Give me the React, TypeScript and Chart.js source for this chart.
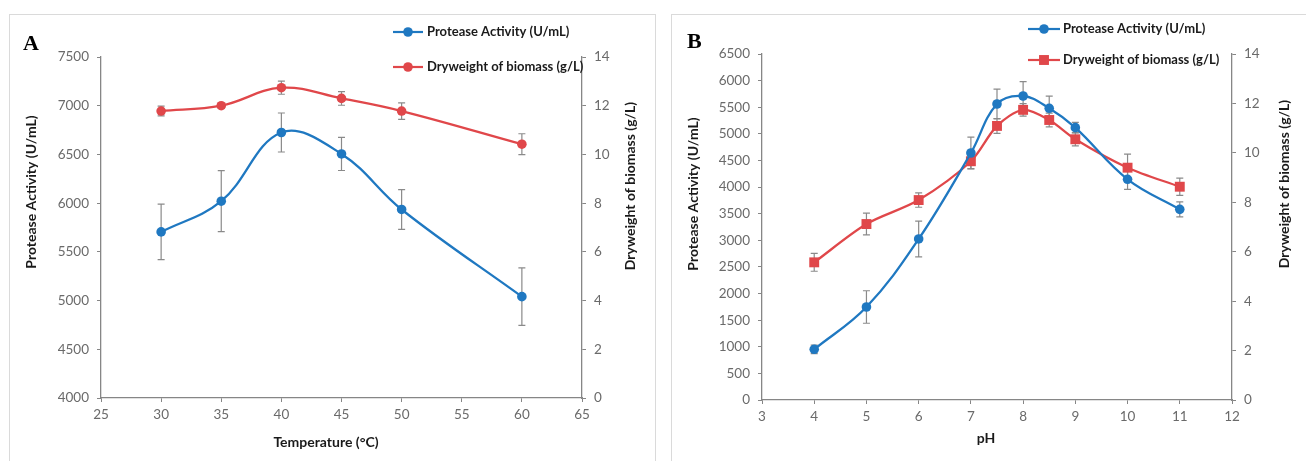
import React, { useEffect, useRef } from 'react';
import { Chart, registerables } from 'chart.js';

Chart.register(...registerables);

// ---------- Data ----------
const tempC = [30, 35, 40, 45, 50, 60];
const tempProtease = [5705, 6020, 6725, 6505, 5935, 5040];
const tempProteaseErr = [285, 313, 200, 170, 204, 295];
const tempBiomass = [11.78, 12.0, 12.74, 12.3, 11.78, 10.42];
const tempBiomassErr = [0.2, 0.1, 0.27, 0.28, 0.34, 0.43];

const phValues = [4, 5, 6, 7, 7.5, 8, 8.5, 9, 10, 11];
const phProtease = [952, 1747, 3025, 4640, 5561, 5711, 5480, 5116, 4146, 3582];
const phProteaseErr = [80, 305, 335, 300, 280, 270, 230, 100, 190, 140];
const phBiomass = [5.57, 7.12, 8.09, 9.66, 11.09, 11.74, 11.33, 10.55, 9.4, 8.63];
const phBiomassErr = [0.36, 0.44, 0.29, 0.3, 0.3, 0.25, 0.28, 0.27, 0.55, 0.35];

const seriesLabels = ['Protease Activity (U/mL)', 'Dryweight of biomass (g/L)'];
const leftTitle = 'Protease Activity (U/mL)';
const rightTitle = 'Dryweight of biomass (g/L)';

// ---------- Styles ----------
const FONT = 'Lato, "Open Sans", sans-serif';
const BLUE = '#1f78c1';
const RED = '#e0474a';
const AXIS = '#868686';
const TICK = '#6a6a6a';
const TITLE = '#1a1a1a';
const ERR = '#8a8a8a';

const errorBarPlugin = {
  id: 'errorBars',
  beforeDatasetsDraw(chart: any) {
    const ctx = chart.ctx;
    ctx.save();
    ctx.strokeStyle = ERR;
    ctx.lineWidth = 1.2;
    chart.data.datasets.forEach((ds: any) => {
      const xs = chart.scales.x;
      const ys = chart.scales[ds.yAxisID];
      ds.data.forEach((p: any, i: number) => {
        const e = ds.errors[i];
        const px = xs.getPixelForValue(p.x);
        const top = ys.getPixelForValue(p.y + e);
        const bot = ys.getPixelForValue(p.y - e);
        ctx.beginPath();
        ctx.moveTo(px, top);
        ctx.lineTo(px, bot);
        ctx.moveTo(px - 3.5, top);
        ctx.lineTo(px + 3.5, top);
        ctx.moveTo(px - 3.5, bot);
        ctx.lineTo(px + 3.5, bot);
        ctx.stroke();
      });
    });
    ctx.restore();
  },
};

function decorPlugin(spec: any) {
  return {
    id: 'decor',
    afterDraw(chart: any) {
      const ctx = chart.ctx;
      ctx.save();
      // panel letter
      ctx.fillStyle = '#000';
      ctx.font = 'bold 22px "Liberation Serif", "DejaVu Serif", serif';
      ctx.textAlign = 'left';
      ctx.textBaseline = 'alphabetic';
      ctx.fillText(spec.letter, spec.letterPos[0], spec.letterPos[1]);

      // axis titles
      ctx.fillStyle = TITLE;
      ctx.font = `bold 14px ${FONT}`;
      ctx.textAlign = 'center';
      ctx.textBaseline = 'middle';
      ctx.fillText(spec.xTitle, spec.xTitlePos[0], spec.xTitlePos[1]);
      const rot = (text: string, x: number, y: number) => {
        ctx.save();
        ctx.translate(x, y);
        ctx.rotate(-Math.PI / 2);
        ctx.fillText(text, 0, 0);
        ctx.restore();
      };
      rot(leftTitle, spec.leftTitlePos[0], spec.leftTitlePos[1]);
      rot(rightTitle, spec.rightTitlePos[0], spec.rightTitlePos[1]);

      // legend
      const lg = spec.legend;
      chart.data.datasets.forEach((ds: any, i: number) => {
        const y = lg.rows[i];
        ctx.strokeStyle = ds.borderColor;
        ctx.lineWidth = 2.2;
        ctx.beginPath();
        ctx.moveTo(lg.x0, y);
        ctx.lineTo(lg.x1, y);
        ctx.stroke();
        ctx.fillStyle = ds.borderColor;
        if (ds.pointStyle === 'rect') {
          const s = ds.pointRadius * Math.SQRT1_2;
          ctx.fillRect(lg.mx - s, y - s, 2 * s, 2 * s);
        } else {
          ctx.beginPath();
          ctx.arc(lg.mx, y, ds.pointRadius, 0, Math.PI * 2);
          ctx.fill();
        }
        ctx.fillStyle = TITLE;
        ctx.font = `bold 13px ${FONT}`;
        ctx.textAlign = 'left';
        ctx.textBaseline = 'middle';
        ctx.fillText(ds.label, lg.tx, y);
      });
      ctx.restore();
    },
  };
}

function axisCommon(min: number, max: number, step: number) {
  return {
    type: 'linear',
    min,
    max,
    ticks: {
      stepSize: step,
      autoSkip: false,
      color: TICK,
      font: { family: FONT, size: 13.5 },
      padding: 8,
      callback: (v: any) => String(v),
    },
    grid: {
      display: true,
      drawOnChartArea: false,
      drawTicks: true,
      tickLength: 4,
      color: AXIS,
    },
    border: { display: true, color: AXIS, width: 1.3 },
  };
}

function buildChart(canvas: HTMLCanvasElement, spec: any) {
  const W = spec.width;
  const H = spec.height;
  const a = spec.area;
  const x = axisCommon(spec.xRange[0], spec.xRange[1], spec.xRange[2]);
  (x as any).ticks.padding = 5;
  (x as any).afterFit = (s: any) => {
    s.height = H - a.bottom;
  };
  const y = axisCommon(spec.yRange[0], spec.yRange[1], spec.yRange[2]);
  (y as any).position = 'left';
  (y as any).afterFit = (s: any) => {
    s.width = a.left;
  };
  const y1 = axisCommon(spec.y1Range[0], spec.y1Range[1], spec.y1Range[2]);
  (y1 as any).position = 'right';
  (y1 as any).afterFit = (s: any) => {
    s.width = W - a.right;
  };

  return new Chart(canvas, {
    type: 'line',
    data: {
      datasets: [
        {
          label: seriesLabels[0],
          data: spec.xs.map((v: number, i: number) => ({ x: v, y: spec.protease[i] })),
          errors: spec.proteaseErr,
          yAxisID: 'y',
          borderColor: BLUE,
          backgroundColor: BLUE,
          borderWidth: 2.3,
          pointStyle: 'circle',
          pointRadius: 4.8,
          pointBorderWidth: 0,
          tension: 0.38,
        } as any,
        {
          label: seriesLabels[1],
          data: spec.xs.map((v: number, i: number) => ({ x: v, y: spec.biomass[i] })),
          errors: spec.biomassErr,
          yAxisID: 'y1',
          borderColor: RED,
          backgroundColor: RED,
          borderWidth: 2.3,
          pointStyle: spec.redStyle,
          pointRadius: spec.redStyle === 'rect' ? 7 : 4.8,
          pointBorderWidth: 0,
          tension: spec.redTension,
        } as any,
      ],
    },
    options: {
      responsive: false,
      animation: false,
      layout: { padding: { top: a.top, left: 0, right: 0, bottom: 0 } },
      plugins: { legend: { display: false }, tooltip: { enabled: false } },
      scales: { x, y, y1 } as any,
    },
    plugins: [errorBarPlugin, decorPlugin(spec)],
  });
}

const specA = {
  width: 645,
  height: 446,
  area: { left: 91, right: 572, top: 42, bottom: 383 },
  xs: tempC,
  protease: tempProtease,
  proteaseErr: tempProteaseErr,
  biomass: tempBiomass,
  biomassErr: tempBiomassErr,
  xRange: [25, 65, 5],
  yRange: [4000, 7500, 500],
  y1Range: [0, 14, 2],
  redStyle: 'circle',
  redTension: 0.38,
  letter: 'A',
  letterPos: [13, 35],
  xTitle: 'Temperature (°C)',
  xTitlePos: [316, 427],
  leftTitlePos: [21, 177],
  rightTitlePos: [620, 171],
  legend: { x0: 383, x1: 413, mx: 398, tx: 417, rows: [17, 52] },
};

const specB = {
  width: 634,
  height: 446,
  area: { left: 90, right: 560, top: 39, bottom: 385 },
  xs: phValues,
  protease: phProtease,
  proteaseErr: phProteaseErr,
  biomass: phBiomass,
  biomassErr: phBiomassErr,
  xRange: [3, 12, 1],
  yRange: [0, 6500, 500],
  y1Range: [0, 14, 2],
  redStyle: 'rect',
  redTension: 0.3,
  letter: 'B',
  letterPos: [15, 33],
  xTitle: 'pH',
  xTitlePos: [314, 423],
  leftTitlePos: [21, 179],
  rightTitlePos: [612, 169],
  legend: { x0: 356, x1: 388, mx: 372, tx: 391, rows: [14, 45] },
};

function Panel({ spec, left, top, boxStyle }: any) {
  const ref = useRef<HTMLCanvasElement | null>(null);
  useEffect(() => {
    if (!ref.current) return;
    const c = buildChart(ref.current, spec);
    return () => c.destroy();
  }, [spec]);
  return (
    <div style={{ position: 'absolute', left, top, ...boxStyle }}>
      <canvas
        ref={ref}
        width={spec.width}
        height={spec.height}
        style={{ display: 'block', width: spec.width, height: spec.height }}
      />
    </div>
  );
}

export default function App() {
  return (
    <div style={{ position: 'absolute', left: 0, top: 0, width: 1306, height: 461, overflow: 'hidden', background: '#fff' }}>
      <Panel
        spec={specA}
        left={9}
        top={14}
        boxStyle={{ border: '1px solid #dadada', borderBottom: 'none' }}
      />
      <Panel
        spec={specB}
        left={671}
        top={14}
        boxStyle={{ borderLeft: '1px solid #dadada', borderTop: '1px solid #dadada' }}
      />
    </div>
  );
}
